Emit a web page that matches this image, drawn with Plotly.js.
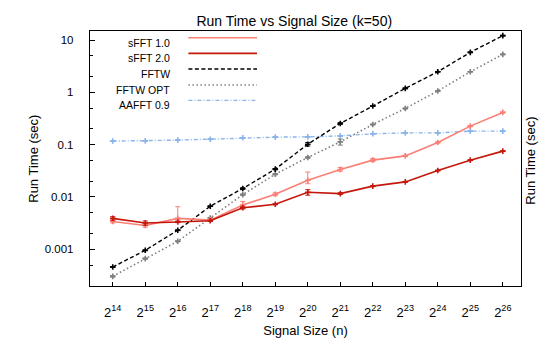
<!DOCTYPE html>
<html>
<head>
<meta charset="utf-8">
<script src="https://cdn.plot.ly/plotly-3.0.1.min.js"></script>
<style>html,body{margin:0;padding:0;background:#fff;}#chart{width:543px;height:343px;}</style>
</head>
<body>
<div id="chart"></div>
<script>
// Signal size exponents (n = 2^k)
const exponents = [14,15,16,17,18,19,20,21,22,23,24,25,26];
const tickLabels = ["2<sup>14</sup>","2<sup>15</sup>","2<sup>16</sup>","2<sup>17</sup>","2<sup>18</sup>","2<sup>19</sup>","2<sup>20</sup>","2<sup>21</sup>","2<sup>22</sup>","2<sup>23</sup>","2<sup>24</sup>","2<sup>25</sup>","2<sup>26</sup>"];
const seriesNames = ["sFFT 1.0","sFFT 2.0","FFTW","FFTW OPT","AAFFT 0.9"];
const yTickVals = [0.001,0.01,0.1,1,10];
const yTickText = ['0.001','0.01','0.1','1','10'];

// Run times (sec)
const sfft1    = [0.0034,0.00284,0.0039,0.0036,0.0070,0.0113,0.0209,0.0335,0.0505,0.061,0.110,0.226,0.413];
const sfft1Up  = [0.0002,0.0002,0.0026,0.0002,0.0012,0.0007,0.0090,0.0030,0.0040,0.002,0.003,0.006,0.010];
const sfft1Dn  = [0.0002,0.0002,0.0003,0.0002,0.0008,0.0007,0.0030,0.0025,0.0030,0.002,0.003,0.006,0.010];
const sfft2    = [0.0039,0.00318,0.00333,0.0035,0.0062,0.00726,0.0123,0.0116,0.0161,0.0194,0.032,0.0505,0.0751];
const sfft2Err = [0.0003,0.0003,0.0001,0.0001,0.0003,0.0002,0.0015,0.0004,0.0004,0.0004,0.0006,0.001,0.0015];
const fftw     = [0.000458,0.000957,0.00231,0.00665,0.0145,0.034,0.102,0.254,0.546,1.19,2.47,5.81,12.1];
const fftwErr  = [0.00001,0.00002,0.00004,0.0001,0.0005,0.001,0.008,0.01,0.01,0.02,0.04,0.08,0.2];
const fftwOpt  = [0.000304,0.000664,0.00142,0.00397,0.0111,0.0272,0.0569,0.113,0.243,0.492,1.06,2.47,5.31];
const fftwOptErr=[0.00001,0.00002,0.00003,0.0001,0.0003,0.0008,0.002,0.015,0.005,0.01,0.02,0.04,0.08];
const aafft    = [0.117,0.118,0.122,0.127,0.135,0.139,0.141,0.147,0.161,0.168,0.168,0.181,0.181];
const aafftErr = [0.002,0.002,0.002,0.002,0.002,0.002,0.002,0.002,0.002,0.002,0.002,0.002,0.002];

const n = exponents.map(e => Math.pow(2, e));

const styles = [
  {color:'#fa7f76', dash:'solid', width:1.6},
  {color:'#c4180c', dash:'solid', width:1.6},
  {color:'#000000', dash:'4px,2.5px', width:1.4},
  {color:'#7f7f7f', dash:'1.5px,2.5px', width:1.6},
  {color:'#8ab3ea', dash:'4px,2px,1px,2px', width:1.4}
];
const values = [sfft1, sfft2, fftw, fftwOpt, aafft];
const errsUp = [sfft1Up, sfft2Err, fftwErr, fftwOptErr, aafftErr];
const errsDn = [sfft1Dn, sfft2Err, fftwErr, fftwOptErr, aafftErr];

// draw order: back to front
const order = [4,3,2,0,1];
const traces = order.map(i => ({
  x: n, y: values[i], name: seriesNames[i], type:'scatter', mode:'lines+markers',
  line:{color:styles[i].color, dash:styles[i].dash, width:styles[i].width},
  marker:{symbol:'cross-thin-open', size:4, color:styles[i].color, line:{color:styles[i].color, width:1.6}},
  error_y:{type:'data', symmetric:false, array:errsUp[i], arrayminus:errsDn[i], color:styles[i].color, thickness:1, width:2.5},
  showlegend:false
}));

const L = 89.5, R = 22, T = 31, B = 57.3, W = 543, H = 343;
const pw = W - L - R, ph = H - T - B;
const px = v => (v - L) / pw;
const py = v => (H - B - v) / ph;

const legendRows = [37.7, 53.3, 69, 85, 100.3];
const shapes = [], annotations = [];
seriesNames.forEach((name, i) => {
  shapes.push({type:'line', xref:'paper', yref:'paper', x0:px(188), x1:px(256.7), y0:py(legendRows[i]), y1:py(legendRows[i]),
    line:{color:styles[i].color, dash:styles[i].dash, width:styles[i].width}});
  annotations.push({xref:'paper', yref:'paper', x:px(171.7), y:py(legendRows[i]), xanchor:'right', yanchor:'middle',
    yshift:-5, text:name, showarrow:false, font:{size:10.5, color:'#000'}});
});
annotations.push({xref:'paper', yref:'paper', x:0, y:py(158.4), xanchor:'center', yanchor:'middle', xshift:32.7 - L,
  text:'Run Time (sec)', textangle:-90, showarrow:false, font:{size:13, color:'#000'}});
annotations.push({xref:'paper', yref:'paper', x:1, y:py(161), xanchor:'left', yanchor:'middle', xshift:0,
  text:'Run Time (sec)', textangle:-90, showarrow:false, font:{size:13, color:'#000'}});

const yMinor = [];
[-4,-3,-2,-1,0,1].forEach(d => { [2,5].forEach(m => yMinor.push(m * Math.pow(10, d))); });

const layout = {
  width: W, height: H,
  margin:{l:L, r:R, t:T, b:B, pad:0},
  paper_bgcolor:'#fff', plot_bgcolor:'#fff',
  font:{family:'"Liberation Sans", Arial, sans-serif', color:'#000'},
  title:{text:'Run Time vs Signal Size (k=50)', x:px(294), xref:'paper', y:1 - 21.5 / H, yref:'container', yanchor:'middle', font:{size:14, color:'#000'}},
  xaxis:{type:'log', range:[13.30*Math.log10(2), 26.56*Math.log10(2)], tickmode:'array', tickvals:n, ticktext:tickLabels,
    ticks:'inside', ticklen:4, tickcolor:'#000', showline:true, linecolor:'#000', linewidth:1.2, mirror:true,
    showgrid:false, zeroline:false, tickfont:{size:13}, ticklabelstandoff:14,
    title:{text:'Signal Size (n)', font:{size:13}, standoff:7}},
  yaxis:{type:'log', range:[-3.702, 1.172], tickmode:'array', tickvals:yTickVals, ticktext:yTickText,
    ticks:'inside', ticklen:5, tickcolor:'#000', showline:true, linecolor:'#000', linewidth:1.2, mirror:true,
    minor:{tickmode:'array', tickvals:yMinor, ticks:'inside', ticklen:3, tickcolor:'#000', showgrid:false},
    showgrid:false, zeroline:false, tickfont:{size:11.5}, ticklabelstandoff:13},
  shapes: shapes,
  annotations: annotations
};

Plotly.newPlot('chart', traces, layout, {staticPlot:true, displayModeBar:false});
</script>
</body>
</html>
